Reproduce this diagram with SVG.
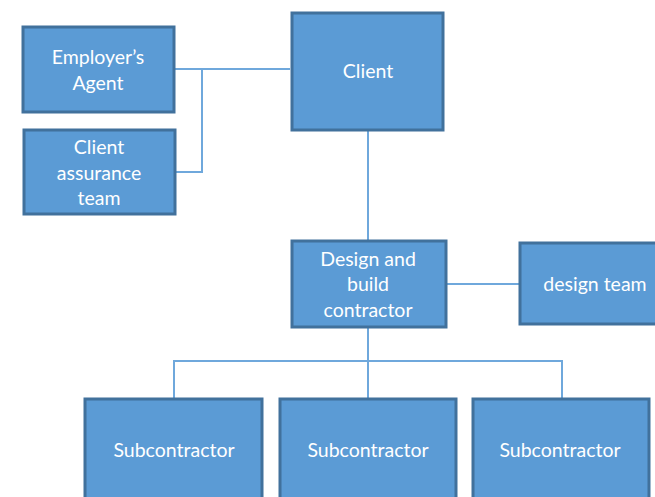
<svg xmlns="http://www.w3.org/2000/svg" width="655" height="497" viewBox="0 0 655 497">
<style>
.box{fill:#5B9BD5;stroke:#41719C;stroke-width:3}
.t{fill:#ffffff;font-family:Lato,"Open Sans","Liberation Sans",sans-serif;font-size:19.5px;text-anchor:middle}
.c{fill:none;stroke:#6FA8DC;stroke-width:2}
</style>
<rect width="655" height="497" fill="#ffffff"/>
<g id="connectors">
<path class="c" d="M174,69 H290"/>
<path class="c" d="M202,69 V172 H175"/>
<path class="c" d="M368,130 V240"/>
<path class="c" d="M446,284 H519"/>
<path class="c" d="M368,328 V398"/>
<path class="c" d="M174,398 V361 H562 V398"/>
</g>
<g id="employers-agent"><rect class="box" x="23" y="27" width="151" height="85"/><text class="t" x="98" y="64">Employer’s</text><text class="t" x="98" y="90">Agent</text></g>
<g id="client-assurance-team"><rect class="box" x="24" y="130" width="151" height="84"/><text class="t" x="99" y="154">Client</text><text class="t" x="99" y="180">assurance</text><text class="t" x="99" y="205">team</text></g>
<g id="client"><rect class="box" x="292" y="13" width="151" height="117"/><text class="t" x="368" y="78">Client</text></g>
<g id="design-build"><rect class="box" x="292" y="241" width="154" height="86"/><text class="t" x="368" y="266">Design and</text><text class="t" x="368" y="291">build</text><text class="t" x="368" y="317">contractor</text></g>
<g id="design-team"><rect class="box" x="520" y="243" width="140" height="81"/><text class="t" x="595" y="291">design team</text></g>
<g id="sub1"><rect class="box" x="85" y="399" width="177" height="105"/><text class="t" x="174" y="457">Subcontractor</text></g>
<g id="sub2"><rect class="box" x="280" y="399" width="176" height="105"/><text class="t" x="368" y="457">Subcontractor</text></g>
<g id="sub3"><rect class="box" x="473" y="399" width="176" height="105"/><text class="t" x="560" y="457">Subcontractor</text></g>
</svg>
